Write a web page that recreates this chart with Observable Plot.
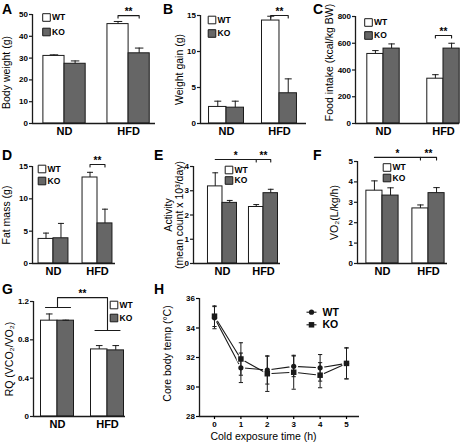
<!DOCTYPE html>
<html><head><meta charset="utf-8">
<script src="https://cdn.jsdelivr.net/npm/d3@7"></script>
<script src="https://cdn.jsdelivr.net/npm/@observablehq/plot@0.6"></script>
<style>
body{margin:0;background:#fff;}
#fig{position:relative;width:461px;height:443px;overflow:hidden;background:#fff;}
#fig svg{position:absolute;left:0;top:0;}
.letter{position:absolute;font:bold 14px "Liberation Sans",Arial,sans-serif;line-height:1;color:#000;}
</style></head><body><div id="fig"></div>
<script>
// ---------- data ----------
const groups = ["ND", "HFD"];
const genotypes = ["WT", "KO"];

// A: body weight (g)
const bodyWeightWT = [31.0, 45.6], bodyWeightWTErr = [0.5, 1.2];
const bodyWeightKO = [27.4, 32.2], bodyWeightKOErr = [1.3, 2.4];
// B: weight gain (g)
const weightGainWT = [2.3, 14.3], weightGainWTErr = [0.8, 0.6];
const weightGainKO = [2.2, 4.2], weightGainKOErr = [0.9, 2.0];
// C: food intake (kcal/kg BW)
const foodIntakeWT = [520, 335], foodIntakeWTErr = [25, 30];
const foodIntakeKO = [560, 560], foodIntakeKOErr = [35, 40];
// D: fat mass (g)
const fatMassWT = [3.8, 13.3], fatMassWTErr = [0.9, 0.8];
const fatMassKO = [3.9, 6.2], fatMassKOErr = [2.3, 2.2];
// E: activity
const activityWT = [3.18, 2.33], activityWTErr = [0.56, 0.1];
const activityKO = [2.5, 2.9], activityKOErr = [0.1, 0.16];
// F: VO2
const vo2WT = [3.57, 2.7], vo2WTErr = [0.48, 0.17];
const vo2KO = [3.33, 3.45], vo2KOErr = [0.38, 0.27];
// G: RQ
const rqWT = [1.0, 0.7], rqWTErr = [0.07, 0.04];
const rqKO = [1.0, 0.69], rqKOErr = [0.005, 0.05];
// H: core body temp
const hoursH = [0, 1, 2, 3, 4, 5];
const tempWT = [34.7, 31.3, 31.15, 31.4, 31.3, 31.6];
const tempWTErr = [0.75, 1.0, 0.95, 0.7, 0.9, 1.05];
const tempKO = [34.8, 31.9, 30.9, 31.0, 30.8, 31.6];
const tempKOErr = [0.7, 1.1, 1.2, 1.15, 0.85, 1.05];

// ---------- drawing ----------
const W = 461, H = 443;
const FONT = "Liberation Sans, Arial, sans-serif";
const fig = document.getElementById("fig");
const INK = "#1a1a1a";
const ROT_SHIFT = 3.4; // compensates the 0.32em baseline shift of rotated labels

function barPanel(p) {
  const rows = [];
  groups.forEach((g, i) => {
    rows.push({g, t: "WT", c: i + 1 - p.bw / 2, x1: i + 1 - p.bw, x2: i + 1, v: p.wt[i], e: p.wtErr[i]});
    rows.push({g, t: "KO", c: i + 1 + p.bw / 2, x1: i + 1, x2: i + 1 + p.bw, v: p.ko[i], e: p.koErr[i]});
  });
  const cap = p.bw * 0.2;
  const center = (gi, t) => gi + (t === "WT" ? -p.bw / 2 : p.bw / 2);
  const pxToY = px => px * (p.ydomain[1] - p.ydomain[0]) / (p.bottom - p.top);
  const xInv = px => p.xdomain[0] + (px - p.left) / (p.right - p.left) * (p.xdomain[1] - p.xdomain[0]);
  const yInv = py => p.ydomain[0] + (p.bottom - py) / (p.bottom - p.top) * (p.ydomain[1] - p.ydomain[0]);
  const marks = [
    Plot.rectY(rows, {x1: "x1", x2: "x2", y1: p.ydomain[0], y2: "v", fill: "t", stroke: INK, strokeWidth: 1}),
    Plot.ruleX(rows, {x: "c", y1: "v", y2: d => d.v + d.e, stroke: INK, strokeWidth: 1}),
    Plot.link(rows, {x1: d => d.c - cap, x2: d => d.c + cap, y1: d => d.v + d.e, y2: d => d.v + d.e, stroke: INK, strokeWidth: 1}),
    Plot.ruleX([p.xdomain[0]], {y1: p.ydomain[0], y2: p.ydomain[1], stroke: INK, strokeWidth: 1.3}),
    Plot.ruleY([p.ydomain[0]], {stroke: INK, strokeWidth: 1.3}),
    Plot.axisY({ticks: p.ticks, tickFormat: p.fmt || (d => d), tickSize: 3, tickPadding: 1.5, fontSize: 8, fontWeight: "bold", label: null, stroke: INK, strokeWidth: 1.2}),
    Plot.axisX({ticks: [1, 2], tickFormat: i => groups[i - 1], tickSize: 0, tickPadding: 4, fontSize: 11, fontWeight: "bold", label: null}),
    Plot.text([p.ylabel], {text: d => d, x: xInv(p.labelX - ROT_SHIFT), y: yInv(p.labelY || (p.top + p.bottom) / 2), rotate: -90, fontSize: 10.5, lineHeight: 1.0})
  ];
  // legend
  genotypes.forEach((g, j) => {
    const y = yInv(p.legY[j]);
    marks.push(Plot.dot([g], {x: xInv(p.legX), y, symbol: "square", r: 4.3, fill: g === "WT" ? "#fff" : "#666", stroke: INK, strokeWidth: 1}));
    marks.push(Plot.text([g], {text: d => d, x: xInv(p.legX + 5.5), y, textAnchor: "start", fontSize: 8.5, fontWeight: "bold"}));
  });
  // significance brackets
  (p.brackets || []).forEach(b => {
    const xa = b.a.length === 2 ? center(b.a[0], b.a[1]) : b.a[0];
    const xb = b.b.length === 2 ? center(b.b[0], b.b[1]) : b.b[0];
    const d = pxToY(b.tick === undefined ? 2.5 : b.tick);
    const pts = b.path ? b.path : [[xa, b.y - d], [xa, b.y], [xb, b.y], [xb, b.y - d]];
    marks.push(Plot.line(pts, {x: q => q[0], y: q => q[1], stroke: INK, strokeWidth: 1.1}));
    marks.push(Plot.text([b.label], {text: d => d, x: (xa + xb) / 2, y: b.y + pxToY(4), fontSize: 10, fontWeight: "bold"}));
  });
  const svg = Plot.plot({
    width: W, height: H,
    marginLeft: p.left, marginRight: W - p.right, marginTop: p.top, marginBottom: H - p.bottom,
    x: {type: "linear", domain: p.xdomain},
    y: {domain: p.ydomain},
    color: {domain: genotypes, range: ["#ffffff", "#666666"]},
    style: {background: "transparent", fontFamily: FONT, overflow: "visible", color: "#000"},
    marks
  });
  fig.appendChild(svg);
}

// A
barPanel({wt: bodyWeightWT, wtErr: bodyWeightWTErr, ko: bodyWeightKO, koErr: bodyWeightKOErr,
  left: 32, right: 155, top: 14, bottom: 123, xdomain: [0.5, 2.42], ydomain: [0, 50], bw: 0.33,
  ticks: [0, 10, 20, 30, 40, 50], ylabel: "Body weight (g)", labelX: 10, labelY: 72,
  legX: 46, legY: [17, 31.5],
  brackets: [{a: [2, "WT"], b: [2, "KO"], y: 49.5, label: "**"}]});
// B
barPanel({wt: weightGainWT, wtErr: weightGainWTErr, ko: weightGainKO, koErr: weightGainKOErr,
  left: 200, right: 306, top: 15, bottom: 123, xdomain: [0.509, 2.51], ydomain: [0, 15], bw: 0.33,
  ticks: [0, 5, 10, 15], ylabel: "Weight gain (g)", labelX: 183,
  legX: 211.5, legY: [19.5, 33],
  brackets: [{a: [2, "WT"], b: [2, "KO"], y: 15, label: "**"}]});
// C
barPanel({wt: foodIntakeWT, wtErr: foodIntakeWTErr, ko: foodIntakeKO, koErr: foodIntakeKOErr,
  left: 355, right: 459, top: 16, bottom: 123, xdomain: [0.533, 2.267], ydomain: [0, 800], bw: 0.27,
  ticks: [0, 200, 400, 600, 800], ylabel: "Food intake (kcal/kg BW)", labelX: 333, labelY: 62,
  legX: 368, legY: [22, 35],
  brackets: [{a: [2, "WT"], b: [2, "KO"], y: 658, label: "**"}]});
// D
barPanel({wt: fatMassWT, wtErr: fatMassWTErr, ko: fatMassKO, koErr: fatMassKOErr,
  left: 32, right: 115, top: 166, bottom: 263, xdomain: [0.523, 2.409], ydomain: [0, 15], bw: 0.34,
  ticks: [0, 5, 10, 15], ylabel: "Fat mass (g)", labelX: 10,
  legX: 41.5, legY: [168.5, 180.5],
  brackets: [{a: [2, "WT"], b: [2, "KO"], y: 15.3, label: "**"}]});
// E
barPanel({wt: activityWT, wtErr: activityWTErr, ko: activityKO, koErr: activityKOErr,
  left: 193, right: 280, top: 166, bottom: 263, xdomain: [0.293, 2.415], ydomain: [0, 4], bw: 0.354,
  ticks: [0, 1, 2, 3, 4], ylabel: "Activity\n(mean count x 10³/day)", labelX: 177,
  legX: 228.5, legY: [169.5, 180],
  brackets: [{a: [1, "WT"], b: [2, "WT"], y: 4.29, label: "*", tick: 0},
             {a: [2, "WT"], b: [2, "KO"], y: 4.29, label: "**"}]});
// F
barPanel({wt: vo2WT, wtErr: vo2WTErr, ko: vo2KO, koErr: vo2KOErr,
  left: 357, right: 447, top: 161, bottom: 263, xdomain: [0.457, 2.413], ydomain: [0, 5], bw: 0.35,
  ticks: [0, 1, 2, 3, 4, 5], ylabel: "VO₂(L/kg/h)", labelX: 338,
  legX: 386.5, legY: [167, 177.5],
  brackets: [{a: [1, "WT"], b: [2, "WT"], y: 5.2, label: "*", tick: 0},
             {a: [2, "WT"], b: [2, "KO"], y: 5.2, label: "**"}]});
// G
barPanel({wt: rqWT, wtErr: rqWTErr, ko: rqKO, koErr: rqKOErr,
  left: 33, right: 125, top: 301, bottom: 416, xdomain: [0.52, 2.36], ydomain: [0, 1.2], bw: 0.33,
  ticks: [0, 0.4, 0.8, 1.2], fmt: d => d === 0 ? "0" : d.toFixed(1), ylabel: "RQ (VCO₂/VO₂)", labelX: 12.5,
  legX: 113.5, legY: [304.5, 317.5],
  brackets: [{a: [0.76], b: [1.26], y: 1.137, label: "", tick: 0},
             {a: [1.75], b: [2.25], y: 0.897, label: "", tick: 0},
             {a: [1], b: [2], y: 1.24, label: "**", path: [[1, 1.137], [1, 1.24], [2, 1.24], [2, 0.897]]}]});

// H: line chart
(function () {
  const left = 199, right = 359, top = 298, bottom = 416;
  const xd = [-0.568, 5.492], yd = [28, 36];
  const xInv = px => xd[0] + (px - left) / (right - left) * (xd[1] - xd[0]);
  const yInv = py => yd[0] + (bottom - py) / (bottom - top) * (yd[1] - yd[0]);
  const wt = hoursH.map((h, i) => ({h, v: tempWT[i], e: tempWTErr[i], t: "WT"}));
  const ko = hoursH.map((h, i) => ({h, v: tempKO[i], e: tempKOErr[i], t: "KO"}));
  const all = wt.concat(ko);
  const cap = 0.08;
  const legY = [311.7, 324.3];
  const marks = [
    Plot.line(wt, {x: "h", y: "v", stroke: INK, strokeWidth: 1.1}),
    Plot.line(ko, {x: "h", y: "v", stroke: INK, strokeWidth: 1.1}),
    Plot.dot(all, {x: "h", y: "v", r: 4.3, fill: "#fff"}),
    Plot.ruleX(all, {x: "h", y1: d => d.v - d.e, y2: d => d.v + d.e, stroke: INK, strokeWidth: 1}),
    Plot.link(all, {x1: d => d.h - cap, x2: d => d.h + cap, y1: d => d.v + d.e, y2: d => d.v + d.e, stroke: INK, strokeWidth: 1}),
    Plot.link(all, {x1: d => d.h - cap, x2: d => d.h + cap, y1: d => d.v - d.e, y2: d => d.v - d.e, stroke: INK, strokeWidth: 1}),
    Plot.dot(wt, {x: "h", y: "v", r: 2.6, symbol: "circle", fill: INK}),
    Plot.dot(ko, {x: "h", y: "v", r: 3.1, symbol: "square", fill: INK}),
    Plot.ruleX([xd[0]], {y1: yd[0], y2: yd[1], stroke: INK, strokeWidth: 1.3}),
    Plot.ruleY([yd[0]], {stroke: INK, strokeWidth: 1.3}),
    Plot.axisY({ticks: [28, 30, 32, 34, 36], tickFormat: d => d, tickSize: 3, tickPadding: 1.5, fontSize: 8, fontWeight: "bold", label: null, strokeWidth: 1.2}),
    Plot.axisX({ticks: hoursH, tickFormat: d => d, tickSize: 3, tickPadding: 2, fontSize: 8, fontWeight: "bold", label: null, strokeWidth: 1.2}),
    Plot.text(["Core body temp (°C)"], {text: d => d, x: xInv(171 - ROT_SHIFT), y: yInv(353), rotate: -90, fontSize: 10.5}),
    Plot.text(["Cold exposure time (h)"], {text: d => d, x: xInv(263), y: yInv(436), fontSize: 10.5})
  ];
  genotypes.forEach((g, j) => {
    const y = yInv(legY[j]);
    marks.push(Plot.link([g], {x1: xInv(306), x2: xInv(316), y1: y, y2: y, stroke: INK, strokeWidth: 1.1}));
    marks.push(Plot.dot([g], {x: xInv(311), y, r: g === "WT" ? 2.6 : 3.1, symbol: g === "WT" ? "circle" : "square", fill: INK}));
    marks.push(Plot.text([g], {text: d => d, x: xInv(322), y, textAnchor: "start", fontSize: 10.5, fontWeight: "bold"}));
  });
  const svg = Plot.plot({
    width: W, height: H,
    marginLeft: left, marginRight: W - right, marginTop: top, marginBottom: H - bottom,
    x: {type: "linear", domain: xd},
    y: {domain: yd},
    style: {background: "transparent", fontFamily: FONT, overflow: "visible", color: "#000"},
    marks
  });
  fig.appendChild(svg);
})();

// panel letters
[["A", 2, 1.5], ["B", 163, 2], ["C", 313, 2], ["D", 2, 148], ["E", 154, 148], ["F", 313, 148], ["G", 2, 282], ["H", 154, 281.5]]
  .forEach(([t, x, y]) => {
    const el = document.createElement("div");
    el.className = "letter";
    el.textContent = t;
    el.style.left = x + "px";
    el.style.top = y + "px";
    fig.appendChild(el);
  });
</script>
</body></html>
